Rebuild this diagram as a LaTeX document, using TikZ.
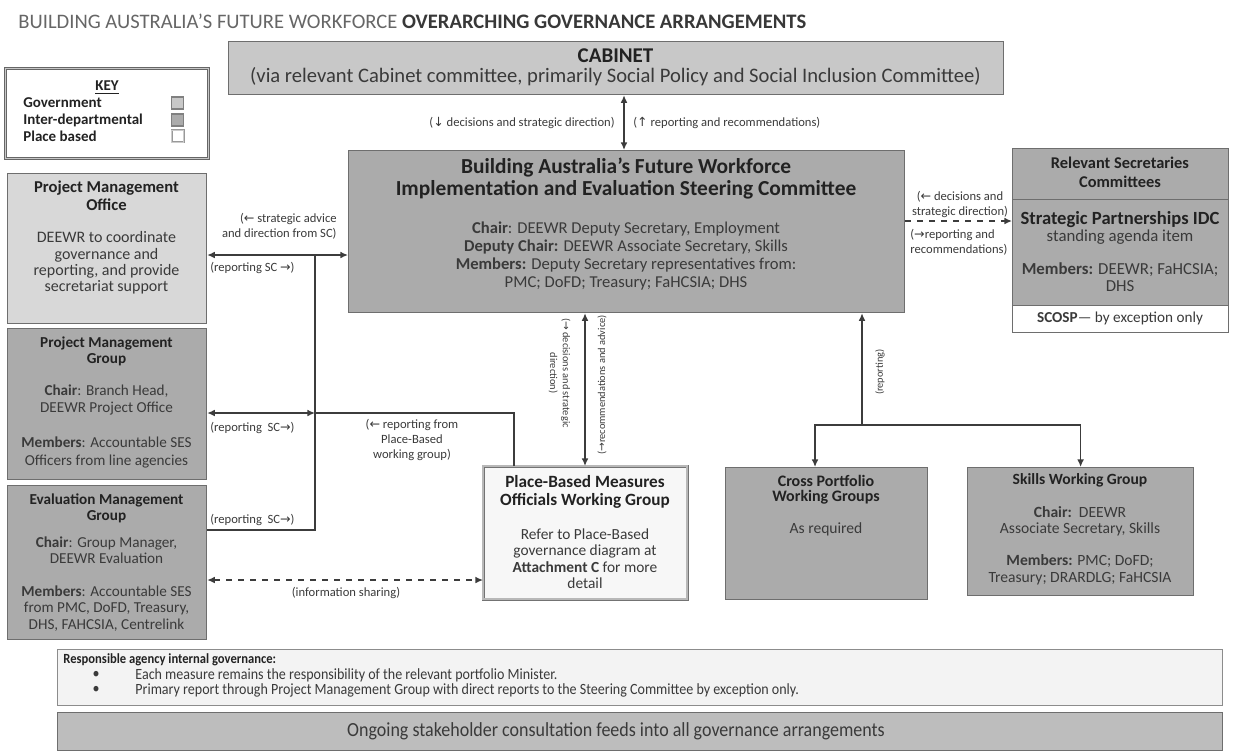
\documentclass[tikz,border=0pt]{standalone}
\usepackage{fontspec}
\setmainfont{Carlito}
\newfontfamily\arrowfont{DejaVu Sans}
\newfontfamily\narrowfont[FakeStretch=0.9]{Carlito}
\usepackage{tikz}
\usetikzlibrary{arrows.meta}

\definecolor{govfill}{HTML}{C8C8C8}
\definecolor{pmofill}{HTML}{D8D8D8}
\definecolor{idcfill}{HTML}{ABABAB}
\definecolor{placefill}{HTML}{F7F7F7}
\definecolor{respfill}{HTML}{F3F3F3}
\definecolor{ongoingfill}{HTML}{BDBDBD}
\definecolor{boxline}{HTML}{6E6E6E}
\definecolor{linkline}{HTML}{3C3C3C}
\definecolor{bodytext}{HTML}{3A3A3A}
\definecolor{headtext}{HTML}{222222}

\newcommand{\fsz}[2]{\fontsize{#1}{#2}\selectfont}
\newcommand{\arrl}{{\arrowfont ←}}
\newcommand{\arrr}{{\arrowfont →}}
\newcommand{\arrd}{{\arrowfont ↓}}
\newcommand{\arru}{{\arrowfont ↑}}

\begin{document}
\begin{tikzpicture}[x=0.5pt,y=-0.5pt,
  box/.style={draw=boxline, line width=0.6pt, inner sep=0pt, anchor=north west},
  gov/.style={box, fill=govfill},
  idc/.style={box, fill=idcfill},
  txt/.style={align=center, inner sep=0pt, text=bodytext},
  hd/.style={txt, text=headtext},
  lbl/.style={inner sep=0pt, text=bodytext, font=\fsz{6.3}{7.3}},
  vlbl/.style={lbl, font=\fsz{5.2}{6.4}},
  link/.style={draw=linkline, line width=0.7pt},
  >={Latex[length=3.8pt,width=3.4pt]}]

\useasboundingbox (0,0) rectangle (1235,751);

\node[anchor=west, inner sep=0pt, font=\fsz{10.3}{12}] (title) at (18,21)
  {\textcolor{black!60}{BUILDING AUSTRALIA’S FUTURE WORKFORCE} \textcolor{black!78}{\bfseries OVERARCHING GOVERNANCE ARRANGEMENTS}};

% boxes
\node[gov, minimum width=387.5pt, minimum height=26.5pt] (cab) at (228,41) {};
\node[box, draw=black!60, double=black!22, double distance=0.8pt, line width=0.5pt,
  fill=white, minimum width=101.5pt, minimum height=45pt] (key) at (5,68) {};
\node[gov, fill=pmofill, minimum width=99.5pt, minimum height=75pt] (pmo) at (7,173) {};
\node[idc, minimum width=99.5pt, minimum height=75.5pt] (pmg) at (7,328) {};
\node[idc, minimum width=99.5pt, minimum height=77pt] (emg) at (7,485) {};
\node[idc, minimum width=278pt, minimum height=81pt] (sc) at (348,150) {};
\node[idc, minimum width=108pt, minimum height=25.5pt] (rsctop) at (1012,148) {};
\node[idc, minimum width=108pt, minimum height=53pt] (rscmid) at (1012,199) {};
\node[box, fill=white, minimum width=108pt, minimum height=13.5pt] (rsclow) at (1012,305) {};
\node[box, fill=placefill, draw=black!55, double=black!28, double distance=0.9pt,
  line width=0.35pt, minimum width=102pt, minimum height=66.5pt] (place) at (483,466) {};
\node[idc, minimum width=101pt, minimum height=66pt] (cpwg) at (725,467) {};
\node[idc, minimum width=113pt, minimum height=64pt] (swg) at (967,467) {};
\node[box, fill=respfill, draw=black!45, minimum width=582.5pt, minimum height=28pt] (resp) at (57,649) {};
\node[box, fill=ongoingfill, minimum width=582.5pt, minimum height=19pt] (ongoing) at (57,712) {};

% key
\node[hd, font=\bfseries\fsz{7.5}{9}] (key-t) at (107,88) {\underline{KEY}};
\node[hd, anchor=west, font=\bfseries\fsz{7.5}{9}] (key-gov-t) at (23,103) {Government};
\node[hd, anchor=west, font=\bfseries\fsz{7.5}{9}] (key-idc-t) at (23,120) {Inter-departmental};
\node[hd, anchor=west, font=\bfseries\fsz{7.5}{9}] (key-pl-t) at (23,136) {Place based};
\node[box, anchor=center, draw=black!50, fill=govfill, minimum size=6pt] (key-gov) at (177.5,103) {};
\node[box, anchor=center, draw=black!50, fill=idcfill, minimum size=6pt] (key-idc) at (177.5,120) {};
\node[box, anchor=center, draw=black!40, double=black!20, double distance=0.4pt,
  line width=0.3pt, fill=white, minimum size=6pt] (key-pl) at (177.5,136) {};

% texts
\node[hd, font=\bfseries\fsz{10.5}{11}] (cab-t) at (615.5,56) {CABINET};
\node[txt, font=\fsz{10.3}{11}] (cab-s) at (615.5,77)
  {(via relevant Cabinet committee, primarily Social Policy and Social Inclusion Committee)};

\node[hd, font=\bfseries\fsz{8.3}{9}] (pmo-t) at (106.5,196) {Project Management\\Office};
\node[txt, font=\fsz{8}{8.2}] (pmo-b) at (106.5,263)
  {DEEWR to coordinate\\governance and\\reporting, and provide\\secretariat support};

\node[hd, font=\bfseries\fsz{7.6}{8}] (pmg-t) at (106.5,351) {Project Management\\Group};
\node[txt, font=\fsz{7.6}{8.75}] (pmg-b) at (106.5,426)
  {\textbf{Chair}: Branch Head,\\DEEWR Project Office\\[8.75pt]\textbf{Members}: Accountable SES\\Officers from line agencies};

\node[hd, font=\bfseries\fsz{7.6}{8}] (emg-t) at (106.5,508) {Evaluation Management\\Group};
\node[txt, font=\fsz{7.6}{8.2}] (emg-b) at (106.5,584)
  {\textbf{Chair}: Group Manager,\\DEEWR Evaluation\\[8.2pt]\textbf{Members}: Accountable SES\\from PMC, DoFD, Treasury,\\DHS, FAHCSIA, Centrelink};

\node[hd, font=\bfseries\fsz{10.7}{11}] (sc-t) at (626,179)
  {Building Australia’s Future Workforce\\Implementation and Evaluation Steering Committee};
\node[txt, font=\fsz{8.3}{9}] (sc-b) at (626,256)
  {\textbf{Chair}: DEEWR Deputy Secretary, Employment\\\textbf{Deputy Chair:} DEEWR Associate Secretary, Skills\\\textbf{Members:} Deputy Secretary representatives from:\\PMC; DoFD; Treasury; FaHCSIA; DHS};

\node[hd, font=\bfseries\fsz{8.2}{9.5}] (rsc-t) at (1120,172.5) {Relevant Secretaries\\Committees};
\node[txt, font=\fsz{8.4}{8.4}] (rsc-b) at (1120,251.5)
  {{\color{headtext}\bfseries\fsz{9.3}{8.4}Strategic Partnerships IDC}\\standing agenda item\\[8.4pt]\textbf{Members:} DEEWR; FaHCSIA;\\DHS};
\node[txt, font=\fsz{7.6}{8}] (rsc-l) at (1120,318) {\textbf{SCOSP}— by exception only};

\node[hd, font=\bfseries\fsz{8.6}{9}] (place-t) at (585,492) {Place-Based Measures\\Officials Working Group};
\node[txt, font=\fsz{7.7}{8.2}] (place-b) at (585,558.5)
  {Refer to Place-Based\\governance diagram at\\\textbf{Attachment C} for more\\detail};

\node[hd, font=\bfseries\fsz{8}{7.7}] (cpwg-t) at (826,489.5) {Cross Portfolio\\Working Groups};
\node[txt, font=\fsz{7.8}{8}] (cpwg-b) at (826,529) {As required};

\node[hd, font=\bfseries\fsz{7.8}{8}] (swg-t) at (1080,480) {Skills Working Group};
\node[txt, font=\fsz{7.8}{8.1}] (swg-b) at (1080,545.5)
  {\textbf{Chair:}~~DEEWR\\Associate Secretary, Skills\\[8.1pt]\textbf{Members:} PMC; DoFD;\\Treasury; DRARDLG; FaHCSIA};

\node[hd, anchor=west, font=\narrowfont\bfseries\fsz{7}{9}] (resp-t) at (63,660) {Responsible agency internal governance:};
\node[txt, font=\narrowfont\fsz{7.8}{9}] (resp-d1) at (96,675) {\textbullet};
\node[txt, font=\narrowfont\fsz{7.8}{9}] (resp-d2) at (96,690) {\textbullet};
\node[txt, anchor=west, font=\narrowfont\fsz{7.8}{9}] (resp-1) at (135,675)
  {Each measure remains the responsibility of the relevant portfolio Minister.};
\node[txt, anchor=west, font=\narrowfont\fsz{7.8}{9}] (resp-2) at (135,690)
  {Primary report through Project Management Group with direct reports to the Steering Committee by exception only.};
\node[txt, font=\narrowfont\fsz{10}{11}] (ongoing-t) at (616,731)
  {Ongoing stakeholder consultation feeds into all governance arrangements};

% connectors
\coordinate (cabx) at (624,0);
\coordinate (pmoy) at (0,255);
\coordinate (trunk) at (315,0);
\coordinate (pmgy) at (0,413);
\coordinate (emgy) at (0,530);
\coordinate (infoy) at (0,580);
\coordinate (plx) at (514,0);
\coordinate (scpx) at (585,0);
\coordinate (wgx) at (862,0);
\coordinate (wgy) at (0,425);
\coordinate (cpx) at (815,0);
\coordinate (rscy) at (0,221);

\draw[link,<->] (cab.south -| cabx) -- (sc.north -| cabx);
\draw[link,<->] (pmo.east |- pmoy) -- (sc.west |- pmoy);
\draw[link] (emg.east |- emgy) -| (trunk |- pmoy);
\draw[link,<->] (pmg.east |- pmgy) -- (trunk |- pmgy);
\draw[link] (place.north -| plx) |- (trunk |- pmgy);
\draw[link,<->,dashed] (emg.east |- infoy) -- (place.west |- infoy);
\draw[link,<->] (sc.south -| scpx) -- (place.north -| scpx);
\draw[link,->] (wgx |- wgy) -- (sc.south -| wgx);
\draw[link,->] (wgx |- wgy) -| (cpwg.north -| cpx);
\draw[link,->] (wgx |- wgy) -| (swg.north);
\draw[link,->,dashed] (sc.east |- rscy) -- (rscmid.west |- rscy);

% connector labels
\node[lbl, anchor=east] (cab-l) at (615,123) {(\arrd{} decisions and strategic direction)};
\node[lbl, anchor=west] (cab-r) at (633,123) {(\arru{} reporting and recommendations)};
\node[lbl, anchor=east, align=right] (pmo-l) at (337,226.5) {(\arrl{} strategic advice\\and direction from SC)};
\node[lbl, anchor=west] (pmo-r) at (210,268) {(reporting SC \arrr)};
\node[lbl, anchor=west] (pmg-l) at (210,428) {(reporting~ SC\arrr)};
\node[lbl, anchor=west] (emg-l) at (210,520) {(reporting~ SC\arrr)};
\node[lbl, align=center] (pl-l) at (412,440) {(\arrl{} reporting from\\Place-Based\\working group)};
\node[lbl] (info-l) at (346,593) {(information sharing)};
\node[vlbl, align=center, rotate=-90] (scp-l) at (559.5,373) {(\arrr{} decisions and strategic\\direction)};
\node[vlbl, rotate=90] (scp-r) at (602,385) {(\arrr recommendations and advice)};
\node[vlbl, rotate=90] (wg-l) at (880,372) {(reporting)};
\node[lbl, align=center] (rsc-l1) at (960,204.5) {(\arrl{} decisions and\\strategic direction)};
\node[lbl, anchor=west, align=left] (rsc-l2) at (910,242) {(\arrr reporting and\\recommendations)};
\end{tikzpicture}
\end{document}
